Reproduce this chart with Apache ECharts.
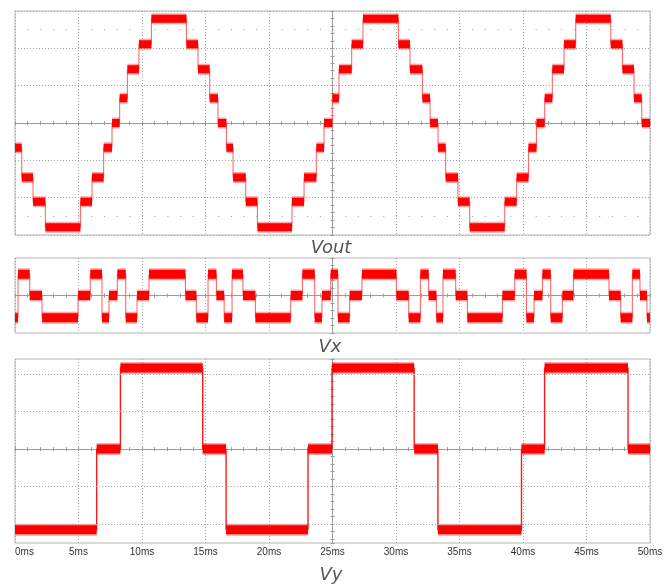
<!DOCTYPE html>
<html><head><meta charset="utf-8">
<script src="https://cdn.jsdelivr.net/npm/echarts@6/dist/echarts.min.js"></script>
<style>html,body{margin:0;padding:0;background:#fff}#c{width:666px;height:584px}</style>
</head><body><div id="c"></div>
<script>
// ---- data (time in ms, amplitude in screen divisions) ----
const timeRange = [0, 50];
const timeStep = 5;
const timeUnit = 'ms';
const panelTitles = ['Vout', 'Vx', 'Vy'];

const voutEdges = [0, 0.53, 1.42, 2.39, 5.15, 6.06, 6.98, 7.64, 8.24, 8.85, 9.76, 10.74, 13.5, 14.41, 15.33, 15.98,
  16.65, 17.17, 18.17, 19.09, 21.81, 22.76, 23.73, 24.33, 24.99, 25.51, 26.51, 27.4, 30.19, 31.1, 32.08, 32.68,
  33.31, 33.91, 34.88, 35.8, 38.56, 39.5, 40.43, 41.06, 41.71, 42.31, 43.23, 44.15, 46.91, 47.83, 48.74, 49.35, 50];
const voutValues = [-0.66, -1.46, -2.11, -2.79, -2.11, -1.46, -0.66, 0, 0.66, 1.44, 2.11, 2.79, 2.11, 1.44, 0.66, 0,
  -0.66, -1.46, -2.11, -2.79, -2.11, -1.46, -0.66, 0, 0.66, 1.44, 2.11, 2.79, 2.11, 1.44, 0.66, 0,
  -0.66, -1.46, -2.11, -2.79, -2.11, -1.46, -0.66, 0, 0.66, 1.44, 2.11, 2.79, 2.11, 1.44, 0.66, 0];

const vxEdges = [0, 0.24, 1.16, 2.13, 4.96, 5.93, 6.85, 7.4, 8.06, 8.72, 9.61, 10.55, 13.42, 14.28, 15.2, 15.86,
  16.47, 17.09, 17.95, 18.93, 21.71, 22.63, 23.6, 24.17, 24.86, 25.43, 26.35, 27.32, 30.03, 31.0, 31.92, 32.57,
  33.18, 33.7, 34.7, 35.62, 38.38, 39.35, 40.27, 40.87, 41.53, 42.18, 43.1, 43.97, 46.77, 47.69, 48.61, 49.21, 49.76, 50];
const vxValues = [-0.59, 0.57, 0, -0.59, 0, 0.57, -0.59, 0, 0.57, -0.59, 0, 0.57, 0, -0.59, 0.57, 0,
  -0.59, 0.57, 0, -0.59, 0, 0.57, -0.59, 0, 0.57, -0.59, 0, 0.57, 0, -0.59, 0.57, 0,
  -0.59, 0.57, 0, -0.59, 0, 0.57, -0.59, 0, 0.57, -0.59, 0, 0.57, 0, -0.59, 0.57, 0, -0.59];

const vyEdges = [0, 6.43, 8.3, 14.78, 16.62, 23.07, 24.96, 31.43, 33.3, 39.88, 41.7, 48.27, 50];
const vyValues = [-2.15, 0, 2.16, 0, -2.15, 0, 2.16, 0, -2.15, 0, 2.16, 0];

const yRanges = [[-3, 3], [-1, 1], [-2.5, 2.4]];
const markerRows = [2.5, -2.5];        // sparse dotted rows in Vout panel
const vyGridRows = [-2, -1, 1, 2];

// ---- build ----
const T0 = (timeRange[0] + timeRange[1]) / 2;
function stairs(edges, values) {
  const d = [];
  for (let i = 0; i < values.length; i++) {
    d.push([edges[i] - T0, values[i]]);
    d.push([edges[i + 1] - T0, values[i]]);
  }
  return d;
}
function plateaus(edges, values) {
  const d = [];
  for (let i = 0; i < values.length; i++) {
    d.push([edges[i] - T0, values[i]]);
    d.push([edges[i + 1] - T0, values[i]]);
    d.push([edges[i + 1] - T0, '-']);
  }
  return d;
}

const gridRects = [{top: 11, height: 224}, {top: 258, height: 75}, {top: 359, height: 184}];
const grids = gridRects.map(r => ({left: 15, width: 635, top: r.top, height: r.height,
  show: true, borderColor: '#b4b4b4', borderWidth: 1}));

const axisGray = '#9c9c9c';
const xAxes = [], yAxes = [];
for (let g = 0; g < 3; g++) {
  const xMin = timeRange[0] - T0, xMax = timeRange[1] - T0;
  xAxes.push({type: 'value', gridIndex: g, min: xMin, max: xMax, interval: timeStep, position: 'bottom',
    axisLine: {show: false, onZero: false}, axisTick: {show: false},
    axisLabel: {show: g === 2, formatter: v => (v + T0) + timeUnit, color: '#333', fontSize: 10,
      fontFamily: 'Liberation Sans', margin: 4, alignMinLabel: 'left'},
    splitLine: {show: true, lineStyle: {color: '#a8a8a8', type: [1, 2]}}});
  ['bottom', 'top'].forEach((pos, k) => xAxes.push({type: 'value', gridIndex: g, min: xMin, max: xMax,
    interval: timeStep, position: pos,
    axisLine: {show: k === 0, onZero: true, onZeroAxisIndex: 3 * g, lineStyle: {color: axisGray}},
    axisTick: {show: true, length: 2, lineStyle: {color: axisGray}},
    minorTick: {show: true, splitNumber: 5, length: 2, lineStyle: {color: axisGray}},
    axisLabel: {show: false}, splitLine: {show: false}}));
  const yr = yRanges[g];
  const yBase = {type: 'value', gridIndex: g, min: yr[0], max: yr[1]};
  if (g < 2) yBase.interval = 1; else yBase.splitNumber = 5;
  yAxes.push(Object.assign({}, yBase, {position: 'left',
    axisLine: {show: false, onZero: false}, axisTick: {show: false}, axisLabel: {show: false},
    splitLine: {show: g === 0, lineStyle: {color: '#a8a8a8', type: [1, 2]}}}));
  ['left', 'right'].forEach((pos, k) => yAxes.push(Object.assign({}, yBase, {position: pos,
    axisLine: {show: k === 0, onZero: true, onZeroAxisIndex: 3 * g, lineStyle: {color: axisGray}},
    axisTick: {show: true, length: 2, lineStyle: {color: axisGray}},
    minorTick: {show: true, splitNumber: 5, length: 2, lineStyle: {color: axisGray}},
    axisLabel: {show: false}, splitLine: {show: false}})));
}

const traces = [[voutEdges, voutValues, 8], [vxEdges, vxValues, 9], [vyEdges, vyValues, 9]];
const series = [];
traces.forEach((tr, g) => {
  const common = {type: 'line', xAxisIndex: 3 * g, yAxisIndex: 3 * g, showSymbol: false, symbol: 'none',
    animation: false, silent: true, connectNulls: false};
  const s0 = Object.assign({}, common, {data: stairs(tr[0], tr[1]),
    lineStyle: {color: g === 2 ? '#ff1a1a' : '#ff6a6a', width: g === 2 ? 1.4 : 1.1}});
  if (g === 0) {
    s0.markLine = {silent: true, symbol: 'none', label: {show: false}, animation: false,
      lineStyle: {color: '#a0a0a0', type: [1, 11.7], width: 1},
      data: markerRows.map(v => ({yAxis: v}))};
  }
  if (g === 2) {
    s0.markLine = {silent: true, symbol: 'none', label: {show: false}, animation: false,
      lineStyle: {color: '#a8a8a8', type: [1, 2], width: 1},
      data: vyGridRows.map(v => ({yAxis: v}))};
  }
  series.push(s0);
  series.push(Object.assign({}, common, {data: plateaus(tr[0], tr[1]),
    lineStyle: {color: 'rgba(255,0,0,0.35)', width: tr[2] + 3, cap: 'butt'}}));
  series.push(Object.assign({}, common, {data: plateaus(tr[0], tr[1]),
    lineStyle: {color: '#ff0000', width: tr[2], cap: 'butt'}}));
});

const titlePos = [[331, 248], [330, 347], [331, 575]];
const graphic = panelTitles.map((t, i) => ({type: 'text', x: titlePos[i][0], y: titlePos[i][1], silent: true,
  style: {text: t, fill: '#555', fontSize: 18, fontStyle: 'italic', fontWeight: 200,
    fontFamily: 'DejaVu Sans', align: 'center', verticalAlign: 'middle'}}));

const chart = echarts.init(document.getElementById('c'), null, {renderer: 'canvas'});
chart.setOption({animation: false, grid: grids, xAxis: xAxes, yAxis: yAxes, series: series, graphic: graphic});
</script></body></html>
